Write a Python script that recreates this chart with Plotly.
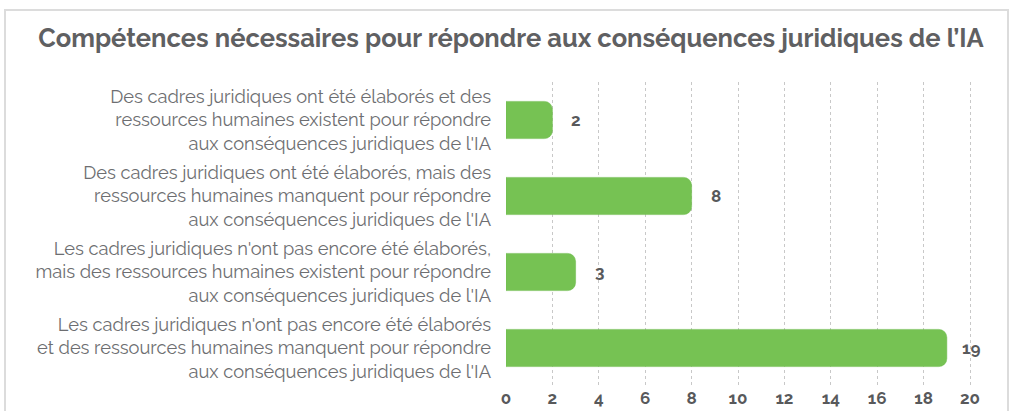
import plotly.graph_objects as go

title = "Compétences nécessaires pour répondre aux conséquences juridiques de l’IA"
categories = [
    "Des cadres juridiques ont été élaborés et des<br>ressources humaines existent pour répondre<br>aux conséquences juridiques de l'IA",
    "Des cadres juridiques ont été élaborés, mais des<br>ressources humaines manquent pour répondre<br>aux conséquences juridiques de l'IA",
    "Les cadres juridiques n'ont pas encore été élaborés,<br>mais des ressources humaines existent pour répondre<br>aux conséquences juridiques de l'IA",
    "Les cadres juridiques n'ont pas encore été élaborés<br>et des ressources humaines manquent pour répondre<br>aux conséquences juridiques de l'IA",
]
values = [2, 8, 3, 19]
x_ticks = list(range(0, 21, 2))

FONT = "Raleway, Lato, 'Open Sans', sans-serif"

L, R, T, B = 506, 36, 82, 25
PW, PH = 1013 - L - R, 411 - T - B

fig = go.Figure()
fig.add_trace(go.Bar(
    x=values, y=categories, orientation="h",
    marker=dict(color="#76c253", cornerradius=8,
                line=dict(color="#6cbb4c", width=0.5)),
    hoverinfo="x+y",
))

annotations = [
    dict(x=v, y=c, xref="x", yref="y", text=f"<b>{v}</b>", showarrow=False,
         xanchor="center", xshift=24, font=dict(family=FONT, size=17, color="#58595b"))
    for c, v in zip(categories, values)
]

fig.update_layout(
    width=1013, height=411,
    margin=dict(l=L, r=R, t=T, b=B, autoexpand=False),
    paper_bgcolor="white", plot_bgcolor="white",
    bargap=0.51,
    showlegend=False,
    title=dict(text=f"<b>{title}</b>", x=511 / 1013, xref="container", xanchor="center",
               y=1 - 38 / 411, yref="container", yanchor="middle",
               font=dict(family=FONT, size=25.5, color="#5f6062")),
    xaxis=dict(range=[0, 20.3], tickvals=x_ticks, showgrid=True, gridcolor="#c8c8c8",
               griddash="dot", gridwidth=1, zeroline=False, showline=False,
               tickfont=dict(family=FONT, size=17, color="#58595b", weight="bold"),
               ticks="", fixedrange=True, automargin=False),
    yaxis=dict(autorange="reversed", showgrid=False, zeroline=False, showline=False,
               ticks="", ticklabelstandoff=14, automargin=False, fixedrange=True,
               tickfont=dict(family=FONT, size=18.3, color="#6d6e71")),
    annotations=annotations,
    shapes=[dict(type="rect", xref="paper", yref="paper",
                 x0=(5 - L) / PW, x1=(1008 - L) / PW,
                 y0=-0.3, y1=1 + (T - 10) / PH,
                 line=dict(color="#dcdcdc", width=2), layer="below")],
    font=dict(family=FONT),
)

fig.write_html("out.html", config={"displayModeBar": False},
               post_script="document.body.style.margin='0';")
